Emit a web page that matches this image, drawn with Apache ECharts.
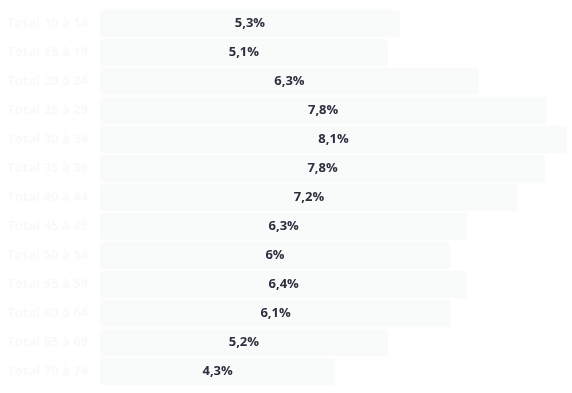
<!DOCTYPE html>
<html>
<head>
<meta charset="utf-8">
<script src="https://cdn.jsdelivr.net/npm/echarts@6/dist/echarts.min.js"></script>
<style>
html,body{margin:0;padding:0;background:#fff;}
#chart{width:572px;height:393px;}
</style>
</head>
<body>
<div id="chart"></div>
<script>
var categories = ["Total 10 à 14","Total 15 à 19","Total 20 à 24","Total 25 à 29","Total 30 à 34","Total 35 à 39","Total 40 à 44","Total 45 à 49","Total 50 à 54","Total 55 à 59","Total 60 à 64","Total 65 à 69","Total 70 à 74"];
var values = [5.20, 4.99, 6.57, 7.74, 8.1, 7.72, 7.25, 6.37, 6.07, 6.37, 6.09, 4.99, 4.08];
var valueLabels = ["5,3%","5,1%","6,3%","7,8%","8,1%","7,8%","7,2%","6,3%","6%","6,4%","6,1%","5,2%","4,3%"];

var chart = echarts.init(document.getElementById('chart'), null, {renderer:'canvas'});
chart.setOption({
  animation:false,
  backgroundColor:'#ffffff',
  grid:{left:100,right:5,top:9,bottom:7,containLabel:false},
  xAxis:{type:'value',min:0,max:8.1,show:false},
  yAxis:{type:'category',data:categories,inverse:true,
    axisLine:{show:false},axisTick:{show:false},splitLine:{show:false},
    axisLabel:{color:'#f9f9f9',fontFamily:'Open Sans',fontWeight:'bold',fontSize:13,margin:12}},
  series:[{
    type:'bar',data:values,barCategoryGap:'5%',
    itemStyle:{color:'#f9fafa',borderRadius:3},
    label:{show:true,position:'inside',color:'#2b2f3e',fontFamily:'Open Sans',fontWeight:'bold',fontSize:13,
      formatter:function(p){return valueLabels[p.dataIndex];}}
  }]
});
</script>
</body>
</html>
